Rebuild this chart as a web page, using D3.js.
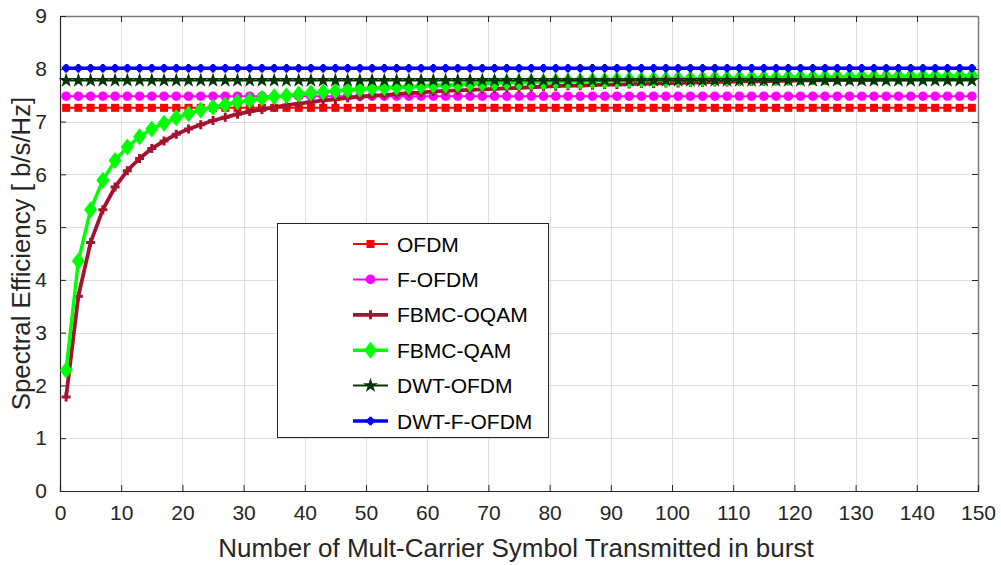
<!DOCTYPE html>
<html>
<head>
<meta charset="utf-8">
<script src="https://cdn.jsdelivr.net/npm/d3@7"></script>
<style>
  html, body { margin: 0; padding: 0; background: #fff; }
  svg { display: block; font-family: "Liberation Sans", Arial, sans-serif; }
</style>
</head>
<body>
<svg id="chart" width="1001" height="565"></svg>
<script>
// Number of multi-carrier symbols per burst (every other value is plotted)
const symbols = d3.range(1, 150, 2);

// Constant spectral efficiencies (b/s/Hz)
const ofdmValue = 7.26;
const fofdmValue = 7.48;
const dwtOfdmValue = 7.78;
const dwtFofdmValue = 8.01;

// Burst-length dependent spectral efficiencies (b/s/Hz)
const fbmcOqam = [
  1.78, 3.69, 4.71, 5.33, 5.76, 6.07, 6.30, 6.49, 6.63, 6.76,
  6.86, 6.94, 7.02, 7.08, 7.14, 7.19, 7.23, 7.27, 7.31, 7.34,
  7.37, 7.40, 7.42, 7.45, 7.47, 7.49, 7.50, 7.52, 7.54, 7.55,
  7.57, 7.58, 7.59, 7.60, 7.61, 7.62, 7.63, 7.64, 7.65, 7.66,
  7.67, 7.68, 7.68, 7.69, 7.70, 7.70, 7.71, 7.72, 7.72, 7.73,
  7.73, 7.74, 7.74, 7.75, 7.75, 7.76, 7.76, 7.76, 7.77, 7.77,
  7.78, 7.78, 7.78, 7.79, 7.79, 7.79, 7.79, 7.80, 7.80, 7.80,
  7.81, 7.81, 7.81, 7.81, 7.82
];
const fbmcQam = [
  2.29, 4.36, 5.33, 5.89, 6.26, 6.52, 6.71, 6.86, 6.97, 7.07,
  7.15, 7.22, 7.27, 7.32, 7.37, 7.40, 7.44, 7.47, 7.49, 7.52,
  7.54, 7.56, 7.58, 7.60, 7.61, 7.63, 7.64, 7.65, 7.66, 7.67,
  7.69, 7.69, 7.70, 7.71, 7.72, 7.73, 7.74, 7.74, 7.75, 7.75,
  7.76, 7.77, 7.77, 7.78, 7.78, 7.79, 7.79, 7.79, 7.80, 7.80,
  7.81, 7.81, 7.81, 7.82, 7.82, 7.82, 7.83, 7.83, 7.83, 7.84,
  7.84, 7.84, 7.84, 7.85, 7.85, 7.85, 7.85, 7.85, 7.86, 7.86,
  7.86, 7.86, 7.86, 7.87, 7.87
];

const xTicks = d3.range(0, 151, 10);
const yTicks = d3.range(0, 10, 1);

const seriesNames = ["OFDM", "F-OFDM", "FBMC-OQAM", "FBMC-QAM", "DWT-OFDM", "DWT-F-OFDM"];
const seriesColors = ["#ff0000", "#ff00ff", "#a2142f", "#00ff00", "#063606", "#0000ff"];

const series = [
  { name: seriesNames[0], color: seriesColors[0], values: symbols.map(() => ofdmValue), width: 2, marker: "square" },
  { name: seriesNames[1], color: seriesColors[1], values: symbols.map(() => fofdmValue), width: 2, marker: "circle" },
  { name: seriesNames[2], color: seriesColors[2], values: fbmcOqam, width: 3.8, marker: "cross" },
  { name: seriesNames[3], color: seriesColors[3], values: fbmcQam, width: 3.5, marker: "diamond" },
  { name: seriesNames[4], color: seriesColors[4], values: symbols.map(() => dwtOfdmValue), width: 2, marker: "star" },
  { name: seriesNames[5], color: seriesColors[5], values: symbols.map(() => dwtFofdmValue), width: 3.5, marker: "dot" }
];

const svg = d3.select("#chart");
const plot = { left: 60, right: 978, top: 16, bottom: 491 };

const x = d3.scaleLinear().domain([0, 150]).range([plot.left, plot.right]);
const y = d3.scaleLinear().domain([0, 9]).range([plot.bottom, plot.top]);

// Grid
const grid = svg.append("g").attr("stroke", "#dedede").attr("stroke-width", 1);
grid.selectAll("line.gx").data(xTicks.slice(1, -1)).join("line")
  .attr("x1", d => Math.round(x(d)) + 0.5).attr("x2", d => Math.round(x(d)) + 0.5)
  .attr("y1", plot.top).attr("y2", plot.bottom);
grid.selectAll("line.gy").data(yTicks.slice(1, -1)).join("line")
  .attr("y1", d => Math.round(y(d)) + 0.5).attr("y2", d => Math.round(y(d)) + 0.5)
  .attr("x1", plot.left).attr("x2", plot.right);

// Box (top/right)
svg.append("line").attr("x1", plot.left).attr("x2", plot.right + 0.5)
  .attr("y1", plot.top + 0.5).attr("y2", plot.top + 0.5).attr("stroke", "#7a7a7a").attr("stroke-width", 1.5);
svg.append("line").attr("x1", plot.right + 0.5).attr("x2", plot.right + 0.5)
  .attr("y1", plot.top).attr("y2", plot.bottom).attr("stroke", "#7a7a7a").attr("stroke-width", 1.5);

// Inward ticks on top and right
const tickLen = 6;
svg.append("g").selectAll("line").data(xTicks.slice(1, -1)).join("line")
  .attr("x1", d => Math.round(x(d)) + 0.5).attr("x2", d => Math.round(x(d)) + 0.5)
  .attr("y1", plot.top).attr("y2", plot.top + tickLen)
  .attr("stroke", "#262626");
svg.append("g").selectAll("line").data(yTicks.slice(1, -1)).join("line")
  .attr("y1", d => Math.round(y(d)) + 0.5).attr("y2", d => Math.round(y(d)) + 0.5)
  .attr("x1", plot.right).attr("x2", plot.right - tickLen)
  .attr("stroke", "#262626");

// Axes (bottom/left) with inward ticks
const xAxis = svg.append("g").attr("transform", `translate(0,${plot.bottom})`)
  .call(d3.axisBottom(x).tickValues(xTicks).tickSize(-tickLen).tickPadding(14).tickFormat(d3.format("d")));
const yAxis = svg.append("g").attr("transform", `translate(${plot.left},0)`)
  .call(d3.axisLeft(y).tickValues(yTicks).tickSize(-tickLen).tickPadding(13).tickFormat(d3.format("d")));
[xAxis, yAxis].forEach(a => {
  a.select(".domain").attr("stroke", "#262626").attr("stroke-width", 1.2);
  a.selectAll(".tick line").attr("stroke", "#262626");
  a.selectAll(".tick text").attr("fill", "#262626").style("font-size", "21px")
    .style("font-family", "'Liberation Sans', Arial, sans-serif");
});

// Axis labels
svg.append("text").attr("x", (plot.left + plot.right) / 2 - 3).attr("y", 557)
  .attr("text-anchor", "middle").attr("fill", "#262626").style("font-size", "26px")
  .text("Number of Mult-Carrier Symbol Transmitted in burst");
svg.append("text").attr("transform", `translate(30,${(plot.top + plot.bottom) / 2}) rotate(-90)`)
  .attr("text-anchor", "middle").attr("fill", "#262626").style("font-size", "25.8px")
  .text("Spectral Efficiency [ b/s/Hz]");

// Marker drawing
function drawMarker(g, type, color) {
  switch (type) {
    case "square":
      g.append("rect").attr("x", -4).attr("y", -4).attr("width", 8).attr("height", 8).attr("fill", color);
      break;
    case "circle":
      g.append("circle").attr("r", 4.8).attr("fill", color);
      break;
    case "cross":
      g.append("path").attr("d", d3.symbol(d3.symbolCross, 45)()).attr("fill", color);
      break;
    case "diamond":
      g.append("path").attr("d", "M0,-8.5L6.5,0L0,8.5L-6.5,0Z").attr("fill", color);
      break;
    case "star":
      g.append("path").attr("d", d3.symbol(d3.symbolStar, 70)()).attr("fill", color);
      break;
    case "dot":
      g.append("circle").attr("r", 3.4).attr("fill", color);
      g.append("path").attr("d", d3.symbol(d3.symbolCross, 40)()).attr("fill", color);
      break;
  }
}

const line = d3.line().x((d, i) => x(symbols[i])).y(d => y(d));
const plotArea = svg.append("g");
series.forEach(s => {
  const g = plotArea.append("g");
  g.append("path").datum(s.values).attr("d", line)
    .attr("fill", "none").attr("stroke", s.color).attr("stroke-width", s.width)
    .attr("stroke-linejoin", "round");
  g.selectAll("g.m").data(s.values).join("g")
    .attr("transform", (d, i) => `translate(${x(symbols[i])},${y(d)})`)
    .each(function () { drawMarker(d3.select(this), s.marker, s.color); });
});

// Legend
const legend = svg.append("g");
legend.append("rect").attr("x", 277.5).attr("y", 223.5).attr("width", 271).attr("height", 214)
  .attr("fill", "#fff").attr("stroke", "#262626").attr("stroke-width", 1);
const rowY = d3.scalePoint().domain(seriesNames).range([244, 421]);
series.forEach(s => {
  const yy = rowY(s.name);
  legend.append("line").attr("x1", 353).attr("x2", 388).attr("y1", yy).attr("y2", yy)
    .attr("stroke", s.color).attr("stroke-width", s.width);
  drawMarker(legend.append("g").attr("transform", `translate(370.5,${yy})`), s.marker, s.color);
  legend.append("text").attr("x", 397).attr("y", yy + 7.5).attr("fill", "#000")
    .style("font-size", "21px").text(s.name);
});
</script>
</body>
</html>
